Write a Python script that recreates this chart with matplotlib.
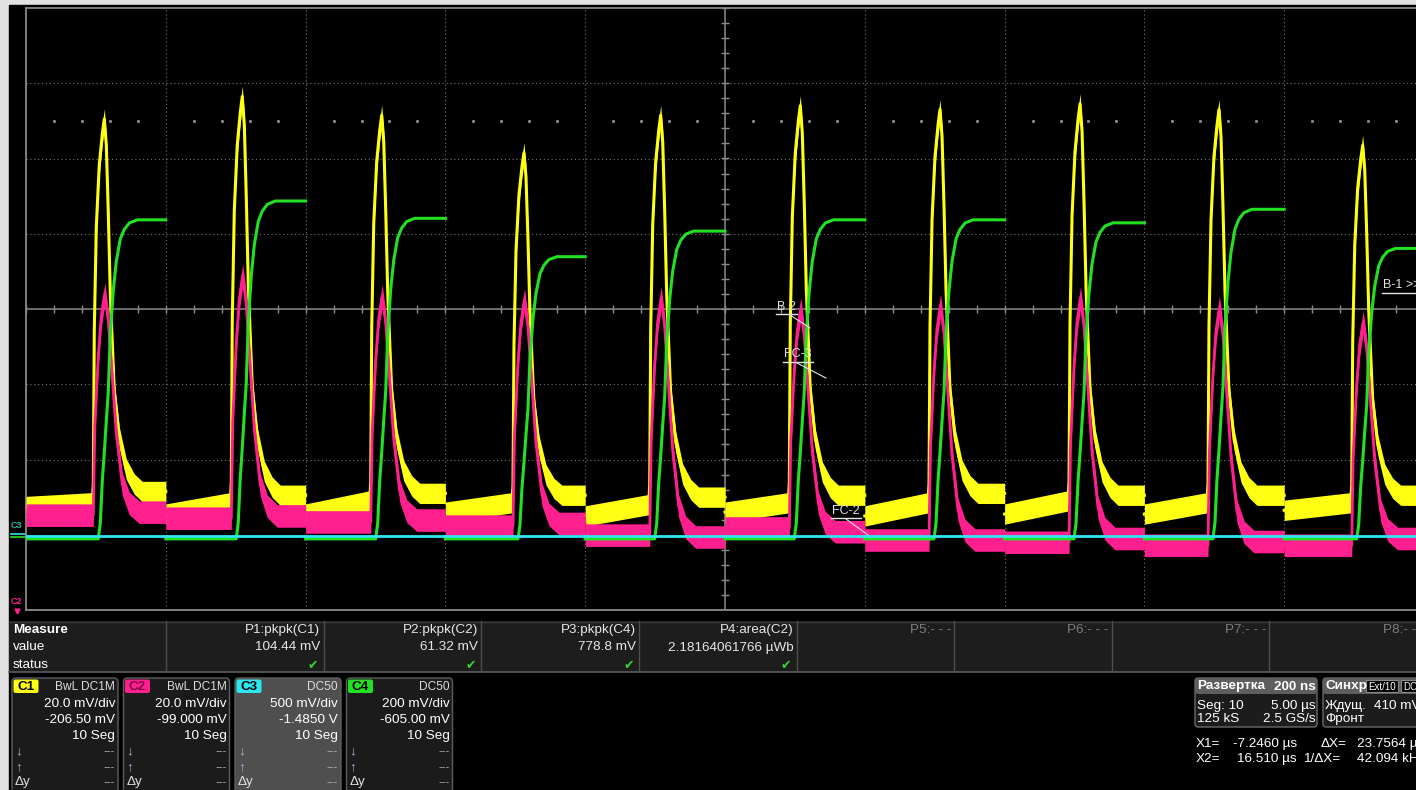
import numpy as np
import matplotlib.pyplot as plt
from matplotlib.patches import Rectangle, FancyBboxPatch

plt.rcParams['font.family'] = ['Liberation Sans', 'DejaVu Sans']

W, H = 1416, 790

# channel setup (mV/div, offset mV)
vdiv = [20.0, 20.0, 500.0, 200.0]
offset = [-206.5, -99.0, -1485.0, -605.0]

# sequence mode: 10 segments, one per division, 2000 ns each
seg_ns = 2000
peak_ns = [1120, 1094, 1089, 1124, 1080, 1077, 1076, 1079, 1067, 1123]

# C1 (yellow), mV
c1_peak = [257.0, 263.0, 258.0, 248.0, 258.0, 260.5, 259.5, 261.0, 259.5, 250.0]
c1_pre_start = [154.0, 152.0, 152.0, 152.5, 151.5, 152.5, 151.5, 152.0, 152.0, 153.0]
c1_pre_end = [155.0, 155.0, 155.5, 155.0, 154.5, 155.0, 155.0, 155.5, 155.0, 155.0]
c1_post = [158.0, 157.0, 157.5, 157.0, 156.5, 157.0, 157.5, 157.0, 157.0, 157.0]

# C2 (pink), mV
c2_peak = [103.0, 108.0, 102.5, 101.5, 102.0, 99.0, 100.0, 102.0, 99.5, 95.5]
c2_pre = [44.2, 43.4, 42.4, 41.3, 38.9, 40.8, 37.6, 37.0, 36.2, 36.2]
c2_post = [45.0, 44.0, 42.9, 42.0, 38.4, 39.8, 37.6, 38.0, 37.2, 38.0]

# C3 (cyan), mV
c3_level = [-25.0, -25.0, -25.0, -25.0, -25.0, -25.0, -25.0, -25.0, -25.0, -25.0]

# C4 (green), mV
c4_base = [-6.0, -6.0, -6.0, -6.0, -6.0, -6.0, -6.0, -6.0, -6.0, -6.0]
c4_plateau = [842.0, 892.0, 846.0, 744.0, 812.0, 842.0, 842.0, 834.0, 870.0, 766.0]

c1_shape_t = [-172, -157, -143, -114, -72, -29, 0, 29, 57, 86, 143, 215, 315, 429, 543]
c1_shape_v = [0, 0.05, 0.45, 0.72, 0.88, 0.96, 1.0, 0.93, 0.75, 0.53, 0.27, 0.145, 0.06, 0.02, 0]
c2_shape_t = [-157, -136, -86, -43, 7, 57, 114, 172, 257, 358, 500]
c2_shape_v = [0, 0.4, 0.72, 0.9, 1.0, 0.88, 0.62, 0.36, 0.13, 0.04, 0]
c4_shape_t = [-86, -57, -29, 0, 29, 57, 86, 129, 172, 229, 286, 358, 472]
c4_shape_v = [0, 0.05, 0.18, 0.27, 0.37, 0.46, 0.64, 0.78, 0.87, 0.94, 0.97, 0.99, 1.0]

# measurement table
meas_names = ['P1:pkpk(C1)', 'P2:pkpk(C2)', 'P3:pkpk(C4)', 'P4:area(C2)',
              'P5:- - -', 'P6:- - -', 'P7:- - -', 'P8:- - -']
meas_values = ['104.44 mV', '61.32 mV', '778.8 mV', '2.18164061766 µWb', '', '', '', '']

ch_names = ['C1', 'C2', 'C3', 'C4']
ch_colors = ['#ffff14', '#ff1f8e', '#2ee6f0', '#22e022']
ch_coupling = ['BwL DC1M', 'BwL DC1M', 'DC50', 'DC50']
ch_scale_txt = ['20.0 mV/div', '20.0 mV/div', '500 mV/div', '200 mV/div']
ch_offset_txt = ['-206.50 mV', '-99.000 mV', '-1.4850 V', '-605.00 mV']

FS = 9.7


def to_div(v, ch):
    return (np.asarray(v) + offset[ch]) / vdiv[ch]


def segment(k, ts, vs, start, rise_base, fall_base, top, end):
    t = [0.0]
    v = [start]
    for dt, f in zip(ts, vs):
        base = rise_base if dt <= 0 else fall_base
        t.append(peak_ns[k] + dt)
        v.append(base + f * (top - base))
    t.append(seg_ns)
    v.append(end)
    return k + np.array(t) / seg_ns, np.array(v)


fig = plt.figure(figsize=(W / 100, H / 100), dpi=100)
fig.patch.set_facecolor('#e2e2e2')

# background / panels in pixel coordinates
bg = fig.add_axes([0, 0, 1, 1])
bg.set_xlim(0, W)
bg.set_ylim(H, 0)
bg.axis('off')
bg.add_patch(Rectangle((9, 5), W - 9, H - 5, color='black'))

# measure table
cols_x = [9, 165.7, 323.5, 481, 639, 796.5, 954, 1111.5, 1269, 1427]
bg.add_patch(Rectangle((9, 621), W - 9, 51, facecolor='#1d1d1d', edgecolor='none'))
bg.plot([9, W], [621.5, 621.5], color='#3a3a3a', lw=1)
bg.plot([9, W], [672, 672], color='#5c5c5c', lw=1.2)
for cx in cols_x[1:-1]:
    bg.plot([cx, cx], [621, 672], color='#4e4e4e', lw=1)
bg.text(13, 630, 'Measure', color='white', fontsize=FS, fontweight='bold', va='center')
bg.text(13, 647.5, 'value', color='white', fontsize=FS, va='center')
bg.text(13, 665, 'status', color='white', fontsize=FS, va='center')
for i, name in enumerate(meas_names):
    xr = cols_x[i + 2] - 3
    active = meas_values[i] != ''
    bg.text(xr, 630, name, color='#e6e6e6' if active else '#7c7c7c',
            fontsize=FS, ha='right', va='center')
    if active:
        bg.text(xr, 647.5, meas_values[i], color='#e6e6e6', fontsize=FS,
                ha='right', va='center')
        bg.text(xr - 2, 665, '✔', color='#3ccf3c', fontsize=9,
                ha='right', va='center', family='DejaVu Sans')

# channel boxes
box_x = [12, 123.5, 235, 346.5]
for i, name in enumerate(ch_names):
    x0 = box_x[i]
    bg.add_patch(FancyBboxPatch((x0, 678), 106, 120, boxstyle='round,pad=0,rounding_size=4',
                                facecolor='#4f4f4f' if i == 2 else '#1b1b1b',
                                edgecolor='#5e5e5e', lw=1))
    bg.add_patch(FancyBboxPatch((x0 + 1.5, 679.5), 25, 13.5, boxstyle='round,pad=0,rounding_size=2',
                                facecolor=ch_colors[i], edgecolor='none'))
    bg.text(x0 + 14, 686.5, name, color='#7a0a45' if i == 1 else 'black', fontsize=FS,
            fontweight='bold', ha='center', va='center')
    xr = x0 + 103
    bg.text(xr, 686.5, ch_coupling[i], color='#dddddd', fontsize=8.6, ha='right', va='center')
    bg.text(xr, 704, ch_scale_txt[i], color='white', fontsize=FS, ha='right', va='center')
    bg.text(xr, 720, ch_offset_txt[i], color='white', fontsize=FS, ha='right', va='center')
    bg.text(xr, 736, '10 Seg', color='white', fontsize=FS, ha='right', va='center')
    for yy, lab in zip([751, 767, 782], ['↓', '↑', 'Δy']):
        bg.text(x0 + 3, yy, lab, color='#9ab8dc' if lab != 'Δy' else '#e0e0e0',
                fontsize=FS, va='center')
        bg.text(xr, yy, '---', color='#b0b0b0', fontsize=8, ha='right', va='center')

# timebase / trigger boxes
for bx, bw in [(1195, 122), (1323, 110)]:
    bg.add_patch(FancyBboxPatch((bx, 678), bw, 49, boxstyle='round,pad=0,rounding_size=3',
                                facecolor='#1c1c1c', edgecolor='#6a6a6a', lw=1))
    bg.add_patch(FancyBboxPatch((bx, 678), bw, 16, boxstyle='round,pad=0,rounding_size=3',
                                facecolor='#5e5e5e', edgecolor='none'))
bg.text(1197, 686.5, 'Развертка', color='white', fontsize=FS, fontweight='bold', va='center')
bg.text(1316, 686.5, '200 ns', color='white', fontsize=FS, fontweight='bold', ha='right', va='center')
bg.text(1197, 706, 'Seg: 10', color='white', fontsize=FS, va='center')
bg.text(1316, 706, '5.00 µs', color='white', fontsize=FS, ha='right', va='center')
bg.text(1197, 719, '125 kS', color='white', fontsize=FS, va='center')
bg.text(1316, 719, '2.5 GS/s', color='white', fontsize=FS, ha='right', va='center')
bg.text(1325, 686.5, 'Синхр', color='white', fontsize=FS, fontweight='bold', va='center')
bg.add_patch(Rectangle((1366, 680), 32, 12, facecolor='black', edgecolor='#888888', lw=0.8))
bg.text(1382, 686.5, 'Ext/10', color='white', fontsize=7, ha='center', va='center')
bg.add_patch(Rectangle((1401, 680), 20, 12, facecolor='black', edgecolor='#888888', lw=0.8))
bg.text(1403, 686.5, 'DC', color='white', fontsize=7, va='center')
bg.text(1325, 706, 'Ждущ.', color='white', fontsize=FS, va='center')
bg.text(1374, 706, '410 mV', color='white', fontsize=FS, va='center')
bg.text(1325, 719, 'Фронт', color='white', fontsize=FS, va='center')

bg.text(1196, 744, 'X1=', color='white', fontsize=FS, va='center')
bg.text(1297, 744, '-7.2460 µs', color='white', fontsize=FS, ha='right', va='center')
bg.text(1321, 744, 'ΔX=', color='white', fontsize=FS, va='center')
bg.text(1357, 744, '23.7564 µs', color='white', fontsize=FS, va='center')
bg.text(1196, 759, 'X2=', color='white', fontsize=FS, va='center')
bg.text(1297, 759, '16.510 µs', color='white', fontsize=FS, ha='right', va='center')
bg.text(1303, 759, '1/ΔX=', color='white', fontsize=FS, va='center')
bg.text(1357, 759, '42.094 kHz', color='white', fontsize=FS, va='center')

# left trace markers
bg.text(11, 526, 'C3', color='#1fb8a8', fontsize=6.5, fontweight='bold', va='center')
bg.plot([11, 25], [533.5, 533.5], color=ch_colors[2], lw=1.2)
bg.plot([11, 25], [536.5, 536.5], color=ch_colors[3], lw=1.2)
bg.text(11, 602, 'C2', color=ch_colors[1], fontsize=6.5, fontweight='bold', va='center')
bg.plot([17], [611], marker='v', color=ch_colors[1], ms=3.5)

# scope grid (divisions)
sc = fig.add_axes([26 / W, (H - 610) / H, 1398 / W, 602 / H])
sc.set_xlim(0, 10)
sc.set_ylim(-4, 4)
sc.axis('off')
for i in range(1, 10):
    if i != 5:
        sc.axvline(i, color='#767676', lw=0.8, ls=(0, (1, 2.5)), zorder=1)
for j in range(-3, 4):
    if j != 0:
        sc.axhline(j, color='#767676', lw=0.8, ls=(0, (1, 2.5)), zorder=1)
sc.axvline(5, color='#8a8a8a', lw=1.1, zorder=1)
sc.axhline(0, color='#8a8a8a', lw=1.1, zorder=1)
sc.axvline(0, color='#8a8a8a', lw=1.3, zorder=1, clip_on=False)
sc.axhline(4, color='#8a8a8a', lw=1.3, zorder=1, clip_on=False)
sc.axhline(-4, color='#8a8a8a', lw=1.3, zorder=1, clip_on=False)
minor_x = np.arange(0, 10.01, 0.2)
minor_y = np.arange(-4, 4.01, 0.2)
sc.vlines(minor_x, -0.055, 0.055, color='#8a8a8a', lw=1, zorder=1)
sc.hlines(minor_y, 4.97, 5.03, color='#8a8a8a', lw=1, zorder=1)
dot_x = [x for x in minor_x if abs(x - round(x)) > 0.01]
sc.plot(dot_x, [2.5] * len(dot_x), ls='none', marker='s', ms=1.1, color='#8a8a8a', zorder=1)

# traces
for k in range(len(peak_ns)):
    x, v = segment(k, c1_shape_t, c1_shape_v, c1_pre_start[k], c1_pre_end[k],
                   c1_post[k], c1_peak[k], c1_post[k])
    y = to_div(v, 0)
    sc.fill_between(x, y - 0.135, y + 0.135, color=ch_colors[0], lw=0, zorder=2)
    sc.plot(x, y, color=ch_colors[0], lw=2.2, zorder=2)

    x, v = segment(k, c2_shape_t, c2_shape_v, c2_pre[k], c2_pre[k],
                   c2_post[k], c2_peak[k], c2_post[k])
    y = to_div(v, 1)
    sc.fill_between(x, y - 0.15, y + 0.15, color=ch_colors[1], lw=0, zorder=3)
    sc.plot(x, y, color=ch_colors[1], lw=2.0, zorder=3)

    x, v = segment(k, c4_shape_t, c4_shape_v, c4_base[k], c4_base[k],
                   c4_base[k], c4_plateau[k], c4_plateau[k])
    sc.plot(x, to_div(v, 3), color=ch_colors[3], lw=2.2, zorder=4)

    y3 = to_div([c3_level[k], c3_level[k]], 2)
    sc.plot([k, k + 1], y3, color=ch_colors[2], lw=2, zorder=5)

# overlay labels (pixel coordinates)
ov = fig.add_axes([0, 0, 1, 1], zorder=5)
ov.set_xlim(0, W)
ov.set_ylim(H, 0)
ov.axis('off')
ov.patch.set_alpha(0)
lab_col = '#e4e4e4'
ov.text(777, 307, 'B 2', color=lab_col, fontsize=9, va='center')
ov.plot([776, 797], [314, 314], color=lab_col, lw=1)
ov.plot([790, 810], [315, 328], color=lab_col, lw=0.8)
ov.text(784, 354, 'FC-3', color=lab_col, fontsize=9, va='center')
ov.plot([783, 813], [361.5, 361.5], color=lab_col, lw=1)
ov.plot([797, 826], [363, 378], color=lab_col, lw=0.8)
ov.text(832, 511, 'FC-2', color=lab_col, fontsize=9, va='center')
ov.plot([831, 861], [518, 518], color=lab_col, lw=1)
ov.plot([846, 868], [519, 535], color=lab_col, lw=0.8)
ov.text(1383, 285, 'B-1 >>', color=lab_col, fontsize=9, va='center')
ov.plot([1382, 1416], [293, 293], color=lab_col, lw=1)

fig.savefig('out.png', dpi=100, facecolor=fig.get_facecolor())
